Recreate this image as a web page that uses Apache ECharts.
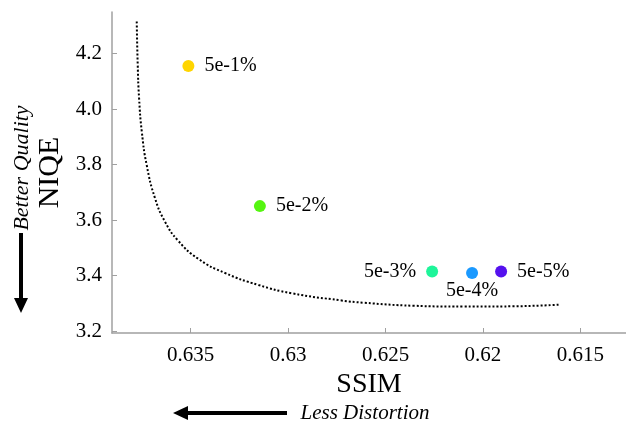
<!DOCTYPE html>
<html>
<head>
<meta charset="utf-8">
<script src="https://cdn.jsdelivr.net/npm/echarts@6/dist/echarts.min.js"></script>
<style>
  html, body { margin: 0; padding: 0; background: #fff; }
  #chart { width: 626px; height: 423px; }
</style>
</head>
<body>
<div id="chart"></div>
<script>
// measured points (SSIM, NIQE) per noise level
const labels = ['5e-1%', '5e-2%', '5e-3%', '5e-4%', '5e-5%']
const ssim = [0.63512, 0.63145, 0.62261, 0.62056, 0.61907]
const niqe = [4.155, 3.65, 3.414, 3.409, 3.414]
const colors = ['#FFD500', '#55F511', '#1EF59A', '#1A99FF', '#5511EE']
const labelPos = ['right', 'right', 'left', 'bottom', 'right']

// dotted trade-off curve
const curveX = [0.63777, 0.63772, 0.63765, 0.63751, 0.63726, 0.63683, 0.63632, 0.63564, 0.63461,
  0.63324, 0.63153, 0.62982, 0.62726, 0.62615, 0.62358, 0.62102, 0.61846, 0.61606]
const curveY = [4.315, 4.159, 4.039, 3.918, 3.798, 3.678, 3.594, 3.525, 3.460,
  3.409, 3.366, 3.336, 3.310, 3.302, 3.291, 3.288, 3.289, 3.295]

const xTicks = [0.635, 0.63, 0.625, 0.62, 0.615]
const yTicks = [3.2, 3.4, 3.6, 3.8, 4.0, 4.2]

const serif = 'Liberation Serif'
const axisColor = '#a0a0a0'

const chart = echarts.init(document.getElementById('chart'))

const option = {
  animation: false,
  grid: { left: 112, top: 12, right: 0, bottom: 90 },
  xAxis: {
    type: 'value',
    inverse: true,
    min: 0.61266,
    max: 0.63904,
    name: 'SSIM',
    nameLocation: 'middle',
    nameGap: 37,
    nameTextStyle: { fontFamily: serif, fontSize: 28, color: '#000' },
    axisLine: { lineStyle: { color: axisColor, width: 1.5 } },
    axisTick: { inside: true, length: 5, customValues: xTicks, lineStyle: { color: axisColor } },
    axisLabel: {
      customValues: xTicks, margin: 12,
      fontFamily: serif, fontSize: 21, color: '#000',
      formatter: v => String(+v.toFixed(3))
    },
    splitLine: { show: false }
  },
  yAxis: {
    type: 'value',
    min: 3.1928,
    max: 4.3495,
    name: 'NIQE',
    nameLocation: 'middle',
    nameRotate: 90,
    nameGap: 44,
    nameTextStyle: { fontFamily: serif, fontSize: 30, color: '#000' },
    axisLine: { show: true, lineStyle: { color: axisColor, width: 1.5 } },
    axisTick: { show: true, inside: true, length: 5, customValues: yTicks, lineStyle: { color: axisColor } },
    axisLabel: {
      customValues: yTicks, margin: 10,
      fontFamily: serif, fontSize: 21, color: '#000',
      formatter: v => v.toFixed(1)
    },
    splitLine: { show: false }
  },
  series: [
    {
      type: 'line',
      data: curveX.map((x, i) => [x, curveY[i]]),
      smooth: 0.5,
      showSymbol: false,
      lineStyle: { color: '#000', width: 2, type: 'dotted' },
      z: 1
    },
    {
      type: 'scatter',
      symbolSize: 12,
      itemStyle: { opacity: 1 },
      data: labels.map((l, i) => ({
        value: [ssim[i], niqe[i]],
        name: l,
        itemStyle: { color: colors[i], opacity: 1 },
        label: { position: labelPos[i], distance: labelPos[i] === 'bottom' ? 2 : 10 }
      })),
      label: {
        show: true,
        formatter: p => p.name,
        fontFamily: serif,
        fontSize: 20,
        color: '#000'
      },
      emphasis: { disabled: true },
      z: 3
    }
  ],
  graphic: [
    {
      type: 'text',
      x: 22, y: 168,
      rotation: Math.PI / 2,
      style: {
        text: 'Better Quality',
        font: 'italic 22px "Liberation Serif"',
        fill: '#000',
        align: 'center',
        verticalAlign: 'middle'
      }
    },
    {
      type: 'line',
      shape: { x1: 21, y1: 233, x2: 21, y2: 300 },
      style: { stroke: '#000', lineWidth: 4 }
    },
    {
      type: 'polygon',
      shape: { points: [[14, 298], [28, 298], [21, 313]] },
      style: { fill: '#000' }
    },
    {
      type: 'text',
      x: 365, y: 413,
      style: {
        text: 'Less Distortion',
        font: 'italic 21px "Liberation Serif"',
        fill: '#000',
        align: 'center',
        verticalAlign: 'middle'
      }
    },
    {
      type: 'line',
      shape: { x1: 186, y1: 413, x2: 287, y2: 413 },
      style: { stroke: '#000', lineWidth: 4 }
    },
    {
      type: 'polygon',
      shape: { points: [[188, 406], [188, 420], [173, 413]] },
      style: { fill: '#000' }
    }
  ]
}

chart.setOption(option)
</script>
</body>
</html>
